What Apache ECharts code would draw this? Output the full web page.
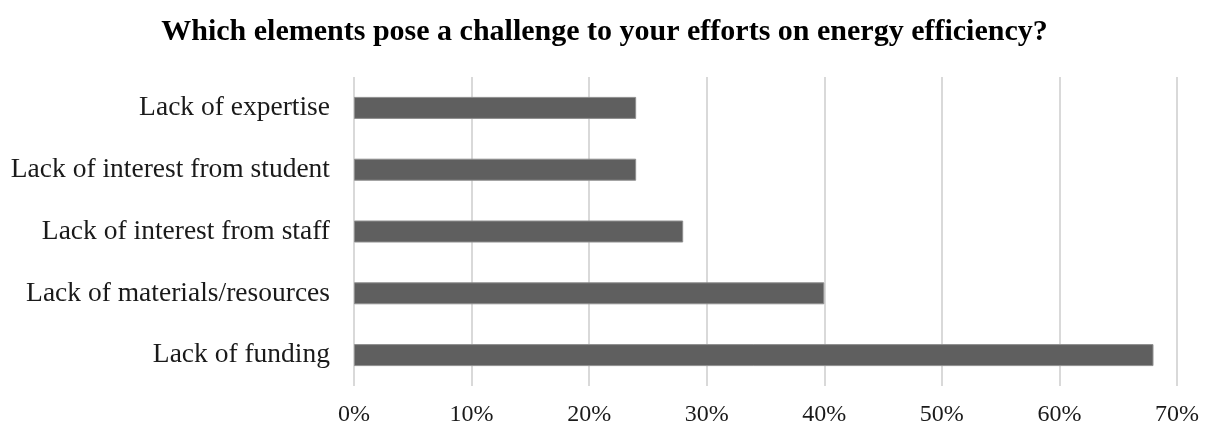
<!DOCTYPE html>
<html>
<head>
<meta charset="utf-8">
<script src="https://cdn.jsdelivr.net/npm/echarts@6/dist/echarts.min.js"></script>
<style>html,body{margin:0;padding:0;background:#fff}#c{width:1209px;height:423px}</style>
</head>
<body>
<div id="c"></div>
<script>
const titleText = "Which elements pose a challenge to your efforts on energy efficiency?";
const categories = ["Lack of expertise", "Lack of interest from student", "Lack of interest from staff", "Lack of materials/resources", "Lack of funding"];
const values = [24, 24, 28, 40, 68];
const xMin = 0, xMax = 70, xStep = 10;

const chart = echarts.init(document.getElementById('c'), null, {renderer: 'canvas'});
const serif = '"Liberation Serif", "DejaVu Serif", serif';
chart.setOption({
  animation: false,
  title: {
    text: titleText,
    left: 'center',
    top: 12,
    textStyle: {fontFamily: serif, fontWeight: 'bold', fontSize: 30, color: '#000'}
  },
  grid: {left: 354, right: 32, top: 77, bottom: 37, containLabel: false, outerBoundsMode: 'none'},
  xAxis: {
    type: 'value', min: xMin, max: xMax, interval: xStep,
    axisLine: {show: false}, axisTick: {show: false},
    splitLine: {show: true, lineStyle: {color: '#d9d9d9', width: 2}},
    axisLabel: {formatter: '{value}%', fontFamily: serif, fontSize: 24, color: '#1a1a1a', margin: 17}
  },
  yAxis: {
    type: 'category', data: categories, inverse: true,
    axisLine: {show: false}, axisTick: {show: false},
    axisLabel: {fontFamily: serif, fontSize: 27.5, color: '#1a1a1a', margin: 24}
  },
  series: [{
    type: 'bar', data: values, barWidth: 22,
    itemStyle: {color: '#5f5f5f', borderColor: '#8f8f8f', borderWidth: 1}
  }]
});
</script>
</body>
</html>
